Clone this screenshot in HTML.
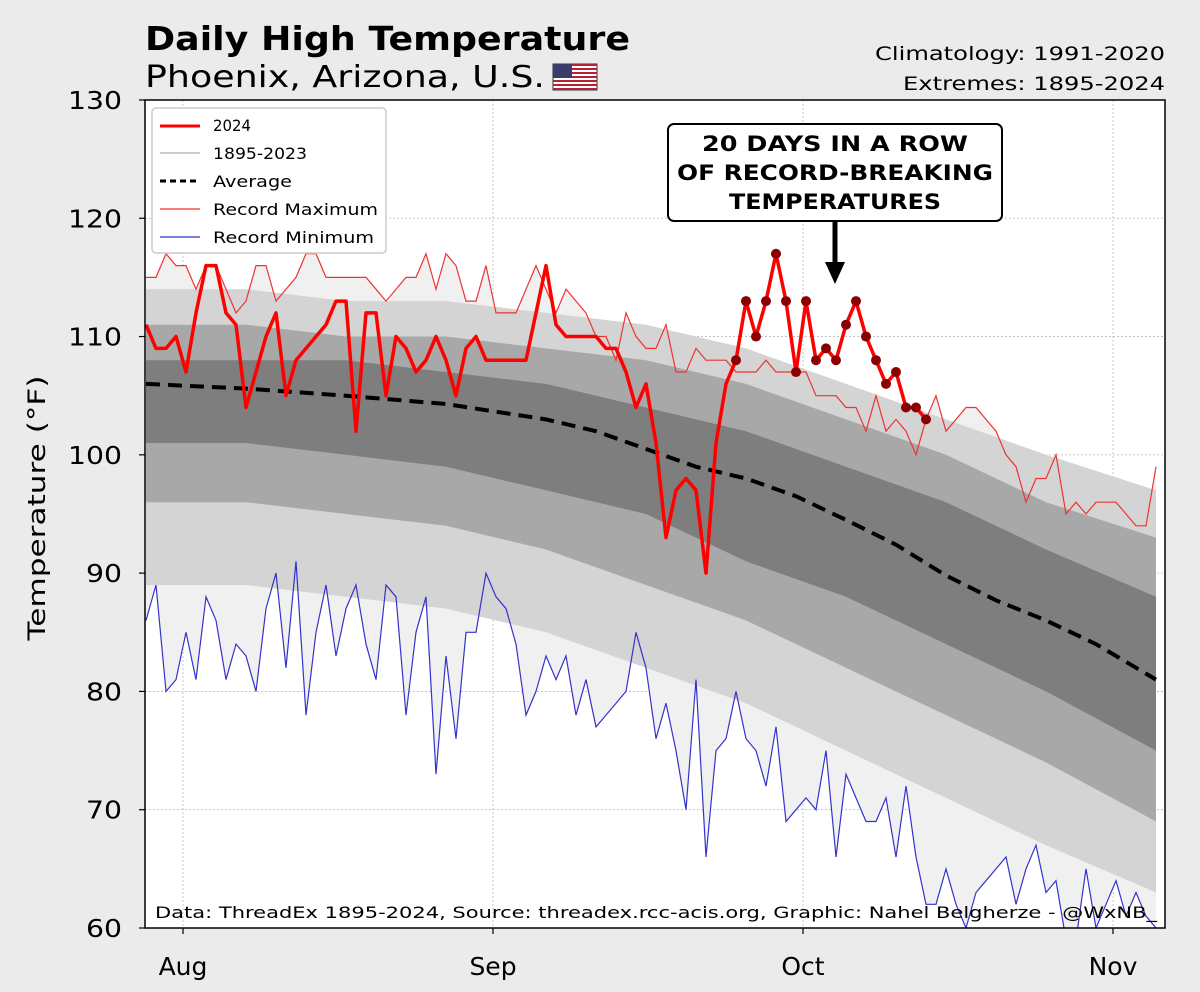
<!DOCTYPE html>
<html><head><meta charset="utf-8">
<style>
body{margin:0;background:#ebebeb;width:1200px;height:992px;overflow:hidden;font-family:"Liberation Sans","DejaVu Sans",sans-serif}
svg{display:block}
</style></head>
<body>
<svg id="chart" width="1200" height="992" xmlns="http://www.w3.org/2000/svg">
<rect x="0" y="0" width="1200" height="992" fill="#ebebeb"/>
<text x="145" y="50" font-size="33" font-weight="bold" textLength="485" lengthAdjust="spacingAndGlyphs" font-family="DejaVu Sans, sans-serif">Daily High Temperature</text>
<text x="145" y="87" font-size="30" textLength="400" lengthAdjust="spacingAndGlyphs" font-family="DejaVu Sans, sans-serif">Phoenix, Arizona, U.S.</text>
<g transform="translate(553,64)">
<rect width="44" height="26" fill="#fff" stroke="#333" stroke-width="1"/>
<g fill="#b22234"><rect y="0" width="44" height="2"/><rect y="4" width="44" height="2"/><rect y="8" width="44" height="2"/><rect y="12" width="44" height="2"/><rect y="16" width="44" height="2"/><rect y="20" width="44" height="2"/><rect y="24" width="44" height="2"/></g>
<rect width="19" height="14" fill="#3c3b6e"/>
</g>
<text x="875" y="60" font-size="19" textLength="290" lengthAdjust="spacingAndGlyphs" font-family="DejaVu Sans, sans-serif">Climatology: 1991-2020</text>
<text x="903" y="90" font-size="19" textLength="262" lengthAdjust="spacingAndGlyphs" font-family="DejaVu Sans, sans-serif">Extremes: 1895-2024</text>
<rect x="145" y="100" width="1020" height="828" fill="#fff"/>
<g id="plot"></g>
<rect x="145" y="100" width="1020" height="828" fill="none" stroke="#000" stroke-width="1.5"/>
<text transform="translate(45,508) rotate(-90)" font-size="24" text-anchor="middle" textLength="265" lengthAdjust="spacingAndGlyphs" font-family="DejaVu Sans, sans-serif">Temperature (°F)</text>
<g id="axes"></g>
<g>
<rect x="152" y="108" width="234" height="145" rx="4" fill="#fff" fill-opacity="0.9" stroke="#ccc" stroke-width="1.5"/>
<line x1="160" y1="126" x2="200" y2="126" stroke="#f00" stroke-width="3"/>
<text x="213" y="131" font-size="16" textLength="38" lengthAdjust="spacingAndGlyphs" font-family="DejaVu Sans, sans-serif">2024</text>
<line x1="160" y1="153" x2="200" y2="153" stroke="#999" stroke-width="1"/>
<text x="213" y="159" font-size="16" textLength="94" lengthAdjust="spacingAndGlyphs" font-family="DejaVu Sans, sans-serif">1895-2023</text>
<line x1="160" y1="181" x2="200" y2="181" stroke="#000" stroke-width="3" stroke-dasharray="6,4"/>
<text x="213" y="187" font-size="16" textLength="79" lengthAdjust="spacingAndGlyphs" font-family="DejaVu Sans, sans-serif">Average</text>
<line x1="160" y1="209" x2="200" y2="209" stroke="#e33" stroke-width="1.2"/>
<text x="213" y="215" font-size="16" textLength="165" lengthAdjust="spacingAndGlyphs" font-family="DejaVu Sans, sans-serif">Record Maximum</text>
<line x1="160" y1="237" x2="200" y2="237" stroke="#33c" stroke-width="1.2"/>
<text x="213" y="243" font-size="16" textLength="161" lengthAdjust="spacingAndGlyphs" font-family="DejaVu Sans, sans-serif">Record Minimum</text>
</g>
<g>
<rect x="668" y="124" width="334" height="97" rx="6" fill="#fff" stroke="#000" stroke-width="2"/>
<g font-size="21" font-weight="bold" text-anchor="middle" font-family="DejaVu Sans, sans-serif">
<text x="835" y="151" textLength="266" lengthAdjust="spacingAndGlyphs">20 DAYS IN A ROW</text>
<text x="835" y="180" textLength="316" lengthAdjust="spacingAndGlyphs">OF RECORD-BREAKING</text>
<text x="835" y="209" textLength="212" lengthAdjust="spacingAndGlyphs">TEMPERATURES</text></g>
<line x1="835" y1="221" x2="835" y2="265" stroke="#000" stroke-width="5"/>
<polygon points="825,262 845,262 835,284" fill="#000"/>
</g>
<text x="155" y="918" font-size="16" textLength="1002" lengthAdjust="spacingAndGlyphs" font-family="DejaVu Sans, sans-serif">Data: ThreadEx 1895-2024, Source: threadex.rcc-acis.org, Graphic: Nahel Belgherze - @WxNB_</text>
</svg>
<script>
const temps2024 = [111,109,109,110,107,112,116,116,112,111,104,107,110,112,105,108,109,110,111,113,113,102,112,112,105,110,109,107,108,110,108,105,109,110,108,108,108,108,108,112,116,111,110,110,110,110,109,109,107,104,106,101,93,97,98,97,90,101,106,108,113,110,113,117,113,107,113,108,109,108,111,113,110,108,106,107,104,104,103];
const recordStart = 59;
const recordMax = [115,115,117,116,116,114,116,116,114,112,113,116,116,113,114,115,117,117,115,115,115,115,115,114,113,114,115,115,117,114,117,116,113,113,116,112,112,112,114,116,114,112,114,113,112,110,110,108,112,110,109,109,111,107,107,109,108,108,108,107,107,107,108,107,107,107,107,105,105,105,104,104,102,105,102,103,102,100,103,105,102,103,104,104,103,102,100,99,96,98,98,100,95,96,95,96,96,96,95,94,94,99];
const recordMin = [86,89,80,81,85,81,88,86,81,84,83,80,87,90,82,91,78,85,89,83,87,89,84,81,89,88,78,85,88,73,83,76,85,85,90,88,87,84,78,80,83,81,83,78,81,77,78,79,80,85,82,76,79,75,70,81,66,75,76,80,76,75,72,77,69,70,71,70,75,66,73,71,69,69,71,66,72,66,62,62,65,62,60,63,64,65,66,62,65,67,63,64,59,59,65,60,62,64,61,63,61,60];
const bandDays = [0,10,20,30,40,50,60,70,80,90,101];
const p97 = [114,114,113,113,112,111,109,106,103,100,97];
const p90 = [111,111,110,110,109,108,106,103,100,96,93];
const p75 = [108,108,108,107,106,104,102,99,96,92,88];
const p25 = [101,101,100,99,97,95,91,88,84,80,75];
const p10 = [96,96,95,94,92,89,86,82,78,74,69];
const p3 = [89,89,88,87,85,82,79,75,71,67,63];
const avgDays = [0,10,20,30,40,45,55,60,65,70,75,80,85,90,95,101];
const avgVals = [106,105.6,105,104.3,103,102,99,98,96.5,94.5,92.4,89.8,87.7,86,84,81];
const yTicks = [60,70,80,90,100,110,120,130];
const xTickDays = [3.7,34.7,65.7,96.7];
const xTickLabels = ['Aug','Sep','Oct','Nov'];

const NS='http://www.w3.org/2000/svg';
const x = k => 146 + 10*k;
const y = v => 928 - (v-60)*11.829;
const plot = document.getElementById('plot');
const axes = document.getElementById('axes');
function mk(tag, attrs, parent){const e=document.createElementNS(NS,tag);for(const a in attrs)e.setAttribute(a,attrs[a]);parent.appendChild(e);return e;}
function linePts(days, vals){return vals.map((v,i)=>x(days?days[i]:i).toFixed(1)+','+y(v).toFixed(1));}
function band(hi, lo){return linePts(bandDays,hi).concat(linePts(bandDays,lo).reverse()).join(' ');}

const defs = mk('defs',{},plot);
const cp = mk('clipPath',{id:'clip'},defs);
mk('rect',{x:145,y:100,width:1020,height:828},cp);
const g = mk('g',{'clip-path':'url(#clip)'},plot);

yTicks.forEach(v=>{ if(v>60&&v<130){const l=mk('line',{x1:145,x2:1165,y1:y(v),y2:y(v),stroke:'#bbb','stroke-width':0.8,'stroke-dasharray':'2,2'},g);

}});
xTickDays.forEach((d,i)=>{const l=mk('line',{x1:x(d),x2:x(d),y1:100,y2:928,stroke:'#bbb','stroke-width':0.8,'stroke-dasharray':'2,2'},g);

});

const envP = mk('polygon',{points:linePts(null,recordMax).concat(linePts(null,recordMin).reverse()).join(' '),fill:'#f0f0f0',stroke:'none'},g);



const b0 = mk('polygon',{points:band(p97,p3),fill:'#d4d4d4'},g);


const b1 = mk('polygon',{points:band(p90,p10),fill:'#a8a8a8'},g);


const b2 = mk('polygon',{points:band(p75,p25),fill:'#7e7e7e'},g);



const rmx = mk('polyline',{points:linePts(null,recordMax).join(' '),fill:'none',stroke:'#e33','stroke-width':1.2},g);


const rmn = mk('polyline',{points:linePts(null,recordMin).join(' '),fill:'none',stroke:'#33c','stroke-width':1.2},g);



const av = mk('polyline',{points:linePts(avgDays,avgVals).join(' '),fill:'none',stroke:'#000','stroke-width':4,'stroke-dasharray':'14,8'},g);



const l24 = mk('polyline',{points:linePts(null,temps2024).join(' '),fill:'none',stroke:'#f00','stroke-width':3.5,'stroke-linejoin':'round'},g);


for(let i=recordStart;i<temps2024.length;i++){
  const c = mk('circle',{cx:x(i),cy:y(temps2024[i]),r:5,fill:'#8b0000'},g);
  
  
}

yTicks.forEach(v=>{
  mk('line',{x1:139,x2:145,y1:y(v),y2:y(v),stroke:'#000','stroke-width':1.2},axes);
  const t = mk('text',{x:122,y:y(v)+9,'font-size':25,'text-anchor':'end','font-family':'DejaVu Sans, sans-serif',textLength:(v>=100?54:36),lengthAdjust:'spacingAndGlyphs'},axes);
  t.textContent=v;
  
  
});
xTickDays.forEach((d,i)=>{
  mk('line',{x1:x(d),x2:x(d),y1:928,y2:934,stroke:'#000','stroke-width':1.2},axes);
  const t = mk('text',{x:x(d),y:975,'font-size':25,'text-anchor':'middle','font-family':'DejaVu Sans, sans-serif'},axes);
  t.textContent=xTickLabels[i];
  
  
});
</script>
</body></html>
